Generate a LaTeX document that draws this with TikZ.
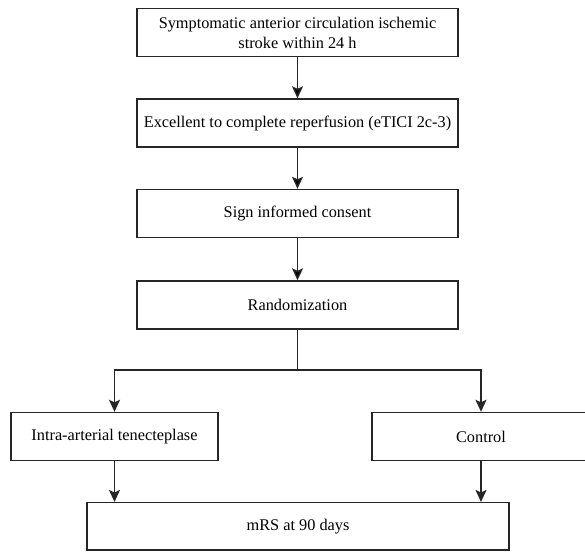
\documentclass[tikz,border=0pt]{standalone}
\usepackage{fontspec}
\setmainfont{Liberation Serif}
\usepackage{tikz}
\usetikzlibrary{arrows.meta,positioning}

\begin{document}
\begin{tikzpicture}[x=1pt,y=-1pt,line width=1.4pt,
  font=\fontsize{16.3}{20}\selectfont]
\tikzstyle{box}=[rectangle,draw=black!85,line width=1.4pt,align=center,minimum height=48pt]
\tikzstyle{arr}=[-{Stealth[length=12pt,width=11pt,inset=2.5pt]},draw=black!85]

\clip (0,0) rectangle (585,551);

\node [box] (onset) at(297.5,32.5)[minimum width=321pt] {Symptomatic anterior circulation ischemic\\stroke within 24 h};
\node [box] (reperf) at(297.5,123)[minimum width=321pt] {Excellent to complete reperfusion (eTICI 2c-3)};
\node [box] (consent) at(297.5,213.5)[minimum width=321pt] {Sign informed consent};
\node [box] (random) at(297.5,305)[minimum width=321pt] {Randomization};
\node [box] (iat) at(114.5,436.5)[minimum width=207pt] {Intra-arterial tenecteplase};
\node [box] (control) at(481,436.5)[minimum width=218pt] {Control};
\node [box] (mrs) at(298,526.4)[minimum width=422pt,minimum height=47.5pt] {mRS at 90 days};

\coordinate (split) at(297.5,370);

\path [arr] (onset) edge (reperf);
\path [arr] (reperf) edge (consent);
\path [arr] (consent) edge (random);
\draw [draw=black!85] (random) -- (split);
\draw [arr] (split) -| (iat);
\draw [arr] (split) -| (control);
\draw [arr] (iat) -- (iat |- mrs.north);
\draw [arr] (control) -- (control |- mrs.north);
\end{tikzpicture}
\end{document}
